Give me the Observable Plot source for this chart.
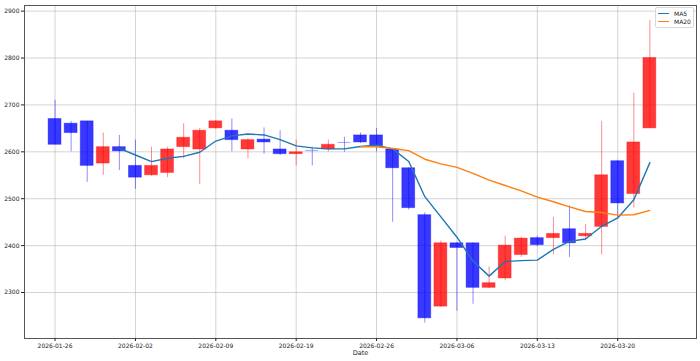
<!DOCTYPE html>
<html>
<head>
<meta charset="utf-8">
<script src="https://cdn.jsdelivr.net/npm/d3@7"></script>
<script src="https://cdn.jsdelivr.net/npm/@observablehq/plot@0.6"></script>
<style>
  html, body { margin: 0; padding: 0; background: #fff; }
  #wrap { position: relative; width: 700px; height: 361px; }
  #legend {
    position: absolute; left: 655px; top: 7px; width: 37px; height: 19px;
    border: 1px solid #d8d8d8; border-radius: 2px; background: rgba(255,255,255,0.85);
    font-family: "DejaVu Sans", sans-serif; font-size: 6px; color: #222;
  }
  #legend .row { position: absolute; left: 2px; height: 8px; display: flex; align-items: center; }
  #legend .sw { width: 11px; height: 0; border-top: 1.5px solid; margin-right: 5px; }
</style>
</head>
<body>
<div id="wrap"></div>
<script>
const dates = ["2026-01-26","2026-01-27","2026-01-28","2026-01-29","2026-01-30",
  "2026-02-02","2026-02-03","2026-02-04","2026-02-05","2026-02-06",
  "2026-02-09","2026-02-10","2026-02-11","2026-02-12","2026-02-13",
  "2026-02-19","2026-02-20","2026-02-23","2026-02-24","2026-02-25",
  "2026-02-26","2026-02-27","2026-03-03","2026-03-04","2026-03-05",
  "2026-03-06","2026-03-09","2026-03-10","2026-03-11","2026-03-12",
  "2026-03-13","2026-03-16","2026-03-17","2026-03-18","2026-03-19",
  "2026-03-20","2026-03-23","2026-03-24"];
const open  = [2670,2660,2665,2575,2610, 2570,2550,2555,2610,2605, 2650,2645,2605,2626,2605, 2595,2603,2605,2620,2635, 2635,2605,2565,2465,2270, 2405,2405,2310,2330,2380, 2416,2416,2435,2420,2440, 2580,2510,2650];
const high  = [2710,2665,2665,2640,2635, 2625,2610,2610,2660,2650, 2667,2670,2628,2651,2645, 2625,2610,2625,2631,2640, 2650,2607,2566,2470,2410, 2407,2406,2355,2420,2418, 2420,2460,2485,2445,2665, 2582,2725,2880];
const low   = [2615,2600,2535,2550,2560, 2520,2548,2545,2585,2530, 2648,2600,2585,2595,2592, 2570,2570,2600,2599,2618, 2600,2450,2476,2235,2268, 2260,2275,2309,2325,2375, 2398,2380,2375,2410,2380, 2460,2480,2650];
const close = [2615,2640,2570,2610,2601, 2545,2570,2605,2630,2645, 2665,2625,2625,2620,2595, 2599,2603,2615,2620,2620, 2612,2565,2480,2245,2405, 2395,2310,2320,2400,2415, 2401,2425,2405,2425,2550, 2490,2620,2800];
const yTicks = [2300,2400,2500,2600,2700,2800,2900];
const xTickIdx = [0,5,10,15,20,25,30,35];
const seriesNames = ["MA5","MA20"];
const seriesColors = ["#1f77b4","#ff7f0e"];

const UP = "#ff0000", DOWN = "#0000ff";
const data = dates.map((d, i) => ({i, date: d, open: open[i], high: high[i], low: low[i], close: close[i],
  col: close[i] > open[i] ? UP : DOWN}));
const doji = data.filter(d => d.open === d.close);

const chart = Plot.plot({
  width: 700, height: 361,
  marginLeft: 24, marginRight: 4, marginTop: 5, marginBottom: 23,
  style: {fontFamily: "DejaVu Sans, sans-serif", fontSize: "6px", color: "#222", background: "#fff"},
  x: {type: "linear", domain: [-1.9, 39.9]},
  y: {domain: [2202, 2912]},
  color: {type: "identity"},
  marks: [
    Plot.gridY(yTicks, {stroke: "#b0b0b0", strokeOpacity: 0.55, strokeWidth: 1}),
    Plot.gridX(xTickIdx, {stroke: "#b0b0b0", strokeOpacity: 0.55, strokeWidth: 1}),
    Plot.ruleX(data, {x: "i", y1: "low", y2: "high", stroke: "col", strokeOpacity: 0.45, strokeWidth: 1}),
    Plot.rect(data, {x1: d => d.i - 0.4, x2: d => d.i + 0.4, y1: "open", y2: "close",
      fill: "col", fillOpacity: 0.78, stroke: "col", strokeOpacity: 0.35, strokeWidth: 1}),
    Plot.ruleY(doji, {y: "close", x1: d => d.i - 0.4, x2: d => d.i + 0.4, stroke: "col", strokeOpacity: 0.35, strokeWidth: 1}),
    Plot.lineY(data, Plot.windowY({k: 5, anchor: "end", reduce: "mean", strict: true},
      {x: "i", y: "close", stroke: seriesColors[0], strokeWidth: 1.4})),
    Plot.lineY(data, Plot.windowY({k: 20, anchor: "end", reduce: "mean", strict: true},
      {x: "i", y: "close", stroke: seriesColors[1], strokeWidth: 1.4})),
    Plot.frame({stroke: "#555", strokeWidth: 1}),
    Plot.axisY({ticks: yTicks, tickSize: 3, tickPadding: 2, tickFormat: d => String(d), label: null, fill: "#222"}),
    Plot.axisX({ticks: xTickIdx, tickSize: 3, tickPadding: 2, tickFormat: i => dates[i], label: null, fill: "#222"}),
    Plot.text(["Date"], {frameAnchor: "bottom", dy: 16, fontSize: 6.5, fill: "#222"})
  ]
});

const wrap = document.getElementById("wrap");
wrap.appendChild(chart);
const leg = document.createElement("div");
leg.id = "legend";
seriesNames.forEach((name, k) => {
  const row = document.createElement("div");
  row.className = "row";
  row.style.top = (1 + k * 8.5) + "px";
  const sw = document.createElement("span");
  sw.className = "sw";
  sw.style.borderTopColor = seriesColors[k];
  const t = document.createElement("span");
  t.textContent = name;
  row.appendChild(sw); row.appendChild(t);
  leg.appendChild(row);
});
wrap.appendChild(leg);
</script>
</body>
</html>
